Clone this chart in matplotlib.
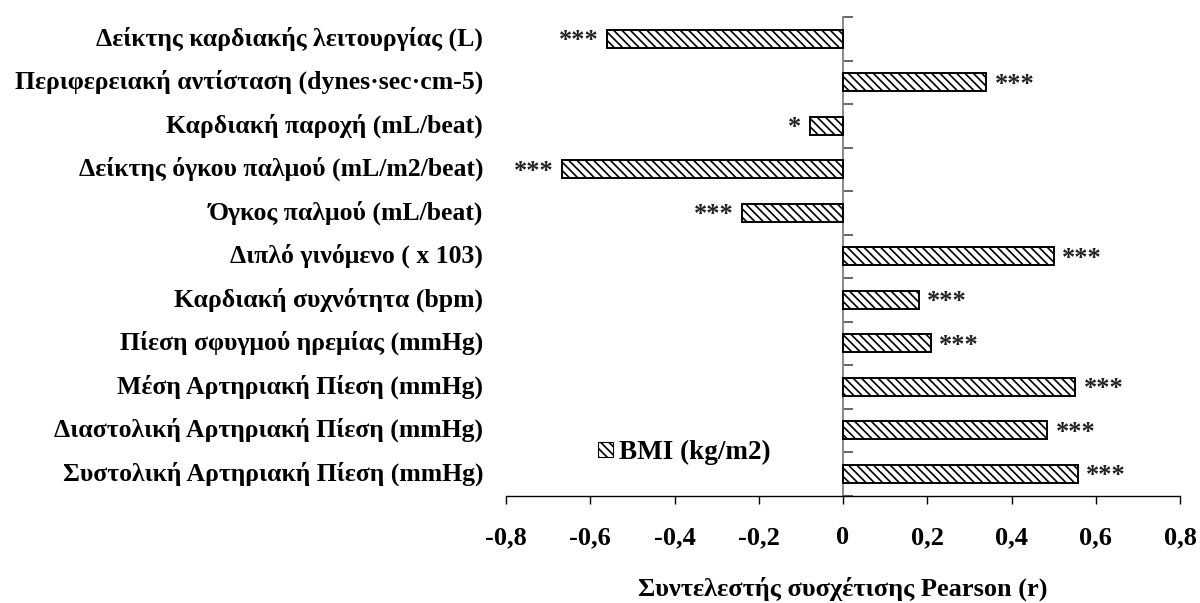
import matplotlib.pyplot as plt
from matplotlib.patches import Patch
from matplotlib.transforms import blended_transform_factory

plt.rcParams['font.family'] = ['Liberation Serif', 'DejaVu Serif']
plt.rcParams['font.weight'] = 'bold'
plt.rcParams['hatch.linewidth'] = 1.2

# bottom to top
labels = [
    'Συστολική Αρτηριακή Πίεση (mmHg)',
    'Διαστολική Αρτηριακή Πίεση (mmHg)',
    'Μέση Αρτηριακή Πίεση (mmHg)',
    'Πίεση σφυγμού ηρεμίας (mmHg)',
    'Καρδιακή συχνότητα (bpm)',
    'Διπλό γινόμενο ( x 103)',
    'Όγκος παλμού (mL/beat)',
    'Δείκτης όγκου παλμού (mL/m2/beat)',
    'Καρδιακή παροχή (mL/beat)',
    'Περιφερειακή αντίσταση (dynes·sec·cm-5)',
    'Δείκτης καρδιακής λειτουργίας (L)',
]
r_values = [0.558, 0.485, 0.551, 0.209, 0.18, 0.50, -0.24, -0.668, -0.079, 0.34, -0.56]
signif = ['***', '***', '***', '***', '***', '***', '***', '***', '*', '***', '***']
xticks = [-0.8, -0.6, -0.4, -0.2, 0, 0.2, 0.4, 0.6, 0.8]
xtick_labels = ['-0,8', '-0,6', '-0,4', '-0,2', '0', '0,2', '0,4', '0,6', '0,8']

fig = plt.figure(figsize=(12, 6.03), dpi=100)
ax = fig.add_axes([506 / 1200, 1 - 495.5 / 603, 674 / 1200, 478.5 / 603])

ypos = list(range(len(labels)))
ax.barh(ypos, r_values, height=0.41, color='white', edgecolor='black',
        linewidth=1.4, hatch='\\\\\\\\', zorder=3)

# significance stars next to bar ends (shifted down a bit: the glyph sits high)
for y, v, s in zip(ypos, r_values, signif):
    if v >= 0:
        ax.annotate(s, (v, y), xytext=(6, -1.5), textcoords='offset points',
                    ha='left', va='center', fontsize=19, fontweight='bold',
                    color='#222222')
    else:
        ax.annotate(s, (v, y), xytext=(-6, -1.5), textcoords='offset points',
                    ha='right', va='center', fontsize=19, fontweight='bold',
                    color='#222222')

# category labels at the far left
trans = blended_transform_factory(ax.transAxes, ax.transData)
for y, lab in zip(ypos, labels):
    ax.text(-0.034, y, lab, transform=trans, ha='right', va='center',
            fontsize=18.5, fontweight='bold')

ax.set_xlim(-0.8, 0.8)
ax.set_ylim(-0.5, len(labels) - 0.5)
ax.set_xticks(xticks)
ax.set_xticklabels(xtick_labels, fontsize=19, fontweight='bold')
ax.set_yticks([i - 0.5 for i in range(len(labels) + 1)])
ax.set_yticklabels([])

ax.spines['top'].set_visible(False)
ax.spines['right'].set_visible(False)
ax.spines['left'].set_position(('data', 0))
ax.spines['left'].set_color('#808080')
ax.spines['left'].set_linewidth(1.3)
ax.spines['bottom'].set_linewidth(1.0)
ax.tick_params(axis='y', direction='in', length=7, width=1.1, color='#404040')
ax.tick_params(axis='x', direction='out', length=6, width=1.0, pad=16)

ax.set_xlabel('Συντελεστής συσχέτισης Pearson (r)', fontsize=19,
              fontweight='bold', labelpad=20)

handle = Patch(facecolor='white', edgecolor='black', hatch='\\\\\\\\', linewidth=0.8)
ax.legend([handle], ['BMI (kg/m2)'], loc='center left',
          bbox_to_anchor=(0.136, 0.089), frameon=False, borderpad=0,
          borderaxespad=0, handlelength=0.55, handleheight=0.48,
          handletextpad=0.25, prop={'size': 19.5, 'weight': 'bold'})

plt.savefig('out.png', dpi=100)
